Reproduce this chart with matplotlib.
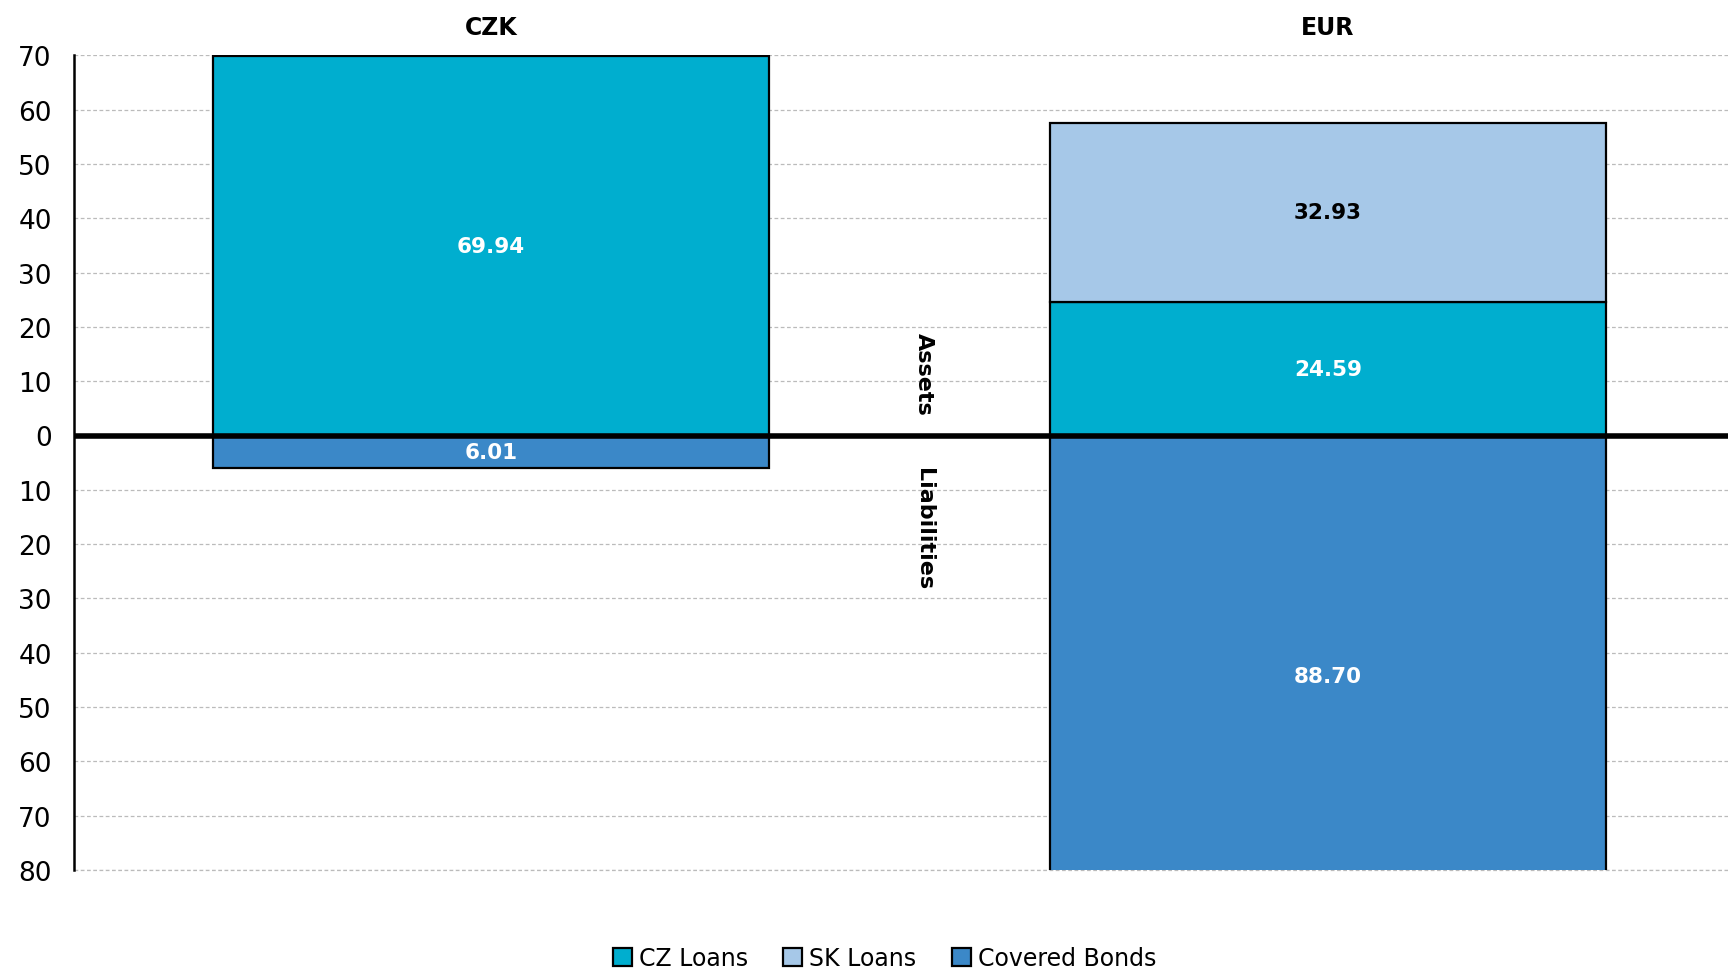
import numpy as np
import matplotlib
matplotlib.use("Agg")
from matplotlib import pyplot as plt
from matplotlib.ticker import FuncFormatter

# Данные
categories = ["CZK", "EUR"]
cz_loans = [69.94, 24.59]
sk_loans = [0.0, 32.93]
covered_bonds = [6.01, 88.70]
series_names = ["CZ Loans", "SK Loans", "Covered Bonds"]

c_cz = "#00AECF"
c_sk = "#A6C8E8"
c_cb = "#3B88C8"

fig = plt.figure(figsize=(17.28, 9.70), dpi=100)
ax = fig.add_axes([0.0428, 0.102, 0.9572, 0.840])

x = np.arange(len(categories))
w = 0.664
cz = np.array(cz_loans)
sk = np.array(sk_loans)
cb = -np.array(covered_bonds)

ax.bar(x, cz, w, color=c_cz, edgecolor="black", linewidth=1.6, label=series_names[0], zorder=3)
ax.bar(x[1:], sk[1:], w, bottom=cz[1:], color=c_sk, edgecolor="black", linewidth=1.6,
       label=series_names[1], zorder=3)
ax.bar(x, cb, w, color=c_cb, edgecolor="black", linewidth=1.6, label=series_names[2], zorder=3)

# Подписи значений
for i in range(len(categories)):
    ax.text(x[i], cz[i] / 2, f"{cz[i]:.2f}", ha="center", va="center", color="white",
            fontsize=15.5, fontweight="bold", zorder=5)
    if sk[i] > 0:
        ax.text(x[i], cz[i] + sk[i] / 2, f"{sk[i]:.2f}", ha="center", va="center",
                color="black", fontsize=15.5, fontweight="bold", zorder=5)
    ax.text(x[i], cb[i] / 2, f"{-cb[i]:.2f}", ha="center", va="center", color="white",
            fontsize=15.5, fontweight="bold", zorder=5)
    ax.text(x[i], 1.035, categories[i], transform=ax.get_xaxis_transform(), ha="center",
            va="center", fontsize=17, fontweight="bold")

ax.set_xlim(-0.498, 1.478)
ax.set_ylim(-80, 70)
ax.set_yticks(np.arange(-80, 71, 10))
ax.yaxis.set_major_formatter(FuncFormatter(lambda v, p: f"{abs(v):.0f}"))
ax.tick_params(axis="y", length=0, labelsize=19, pad=16)
ax.set_xticks([])

ax.grid(axis="y", linestyle=(0, (3, 2)), color="#BBBBBB", linewidth=0.9, zorder=0)
ax.axhline(-80, linestyle=(0, (3, 2)), color="#BBBBBB", linewidth=0.9, zorder=0, clip_on=False)
for s in ["top", "right", "bottom"]:
    ax.spines[s].set_visible(False)
ax.spines["left"].set_linewidth(1.8)
ax.axhline(0, color="black", linewidth=4, zorder=4)

ax.text(0.517, 11.5, "Assets", rotation=-90, ha="center", va="center", fontsize=16,
        fontweight="bold")
ax.text(0.517, -17, "Liabilities", rotation=-90, ha="center", va="center", fontsize=16,
        fontweight="bold")

ax.legend(loc="center", bbox_to_anchor=(0.49, -0.108), ncol=3, frameon=False,
          fontsize=17, handlelength=0.8, handleheight=0.8, handletextpad=0.3,
          columnspacing=1.5)

plt.savefig("out.png", dpi=100)
